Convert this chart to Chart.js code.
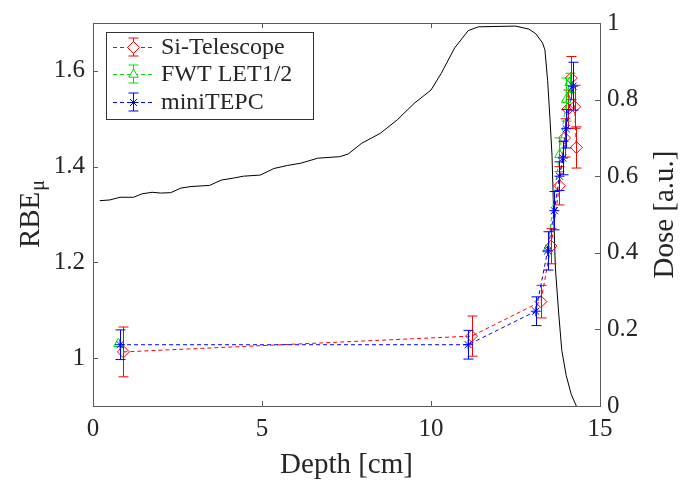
<!DOCTYPE html>
<html>
<head>
<meta charset="utf-8">
<title>RBE vs depth</title>
<script src="https://cdn.jsdelivr.net/npm/chart.js@4.4.1/dist/chart.umd.min.js"></script>
<style>
  html, body { margin: 0; padding: 0; background: #fff; }
</style>
</head>
<body>
<canvas id="rbeChart" width="688" height="482"></canvas>
<script>
// Si-Telescope (red diamonds)
const siDepth = [0.9, 11.2, 13.25, 13.55, 13.8, 13.95, 14.05, 14.15, 14.25, 14.3];
const siRbe   = [1.013, 1.046, 1.118, 1.234, 1.36, 1.46, 1.52, 1.585, 1.525, 1.44];
const siErr   = [0.052, 0.042, 0.034, 0.037, 0.04, 0.04, 0.04, 0.045, 0.045, 0.043];

// FWT LET1/2 (green triangles)
const fwtDepth = [0.75, 13.45, 13.8, 14.0, 14.1];
const fwtRbe   = [1.03, 1.228, 1.425, 1.54, 1.575];
const fwtErr   = [0, 0, 0.035, 0.045, 0.02];

// miniTEPC (blue stars)
const tepcDepth = [0.8, 11.1, 13.1, 13.45, 13.65, 13.8, 13.9, 14.0, 14.2];
const tepcRbe   = [1.028, 1.028, 1.098, 1.224, 1.308, 1.38, 1.418, 1.479, 1.568];
const tepcErr   = [0.031, 0.03, 0.03, 0.04, 0.04, 0.03, 0.035, 0.04, 0.05];

// depth dose curve (right axis)
const doseDepth = [0.2, 0.5, 0.8, 1.2, 1.45, 1.75, 2.0, 2.3, 2.6, 2.9, 3.45, 3.8, 4.15, 4.45, 4.95,
  5.35, 5.75, 6.15, 6.65, 7.3, 7.55, 7.95, 8.5, 9.0, 9.5, 10.0, 10.3, 10.7, 11.1, 11.4, 12.5, 12.9,
  13.1, 13.3, 13.37, 13.45, 13.52, 13.58, 13.63, 13.68, 13.78, 13.87, 14.0, 14.15, 14.3];
const doseVal = [0.536, 0.538, 0.545, 0.545, 0.554, 0.558, 0.556, 0.557, 0.569, 0.573, 0.576, 0.59, 0.595, 0.6, 0.603,
  0.62, 0.628, 0.634, 0.647, 0.651, 0.658, 0.686, 0.712, 0.747, 0.79, 0.825, 0.868, 0.935, 0.98, 0.99, 0.992, 0.984,
  0.972, 0.948, 0.93, 0.85, 0.75, 0.655, 0.5, 0.36, 0.24, 0.145, 0.08, 0.03, 0.0];

const depthTicks = [0, 5, 10, 15];
const rbeTicks = [1, 1.2, 1.4, 1.6];
const doseTicks = [0, 0.2, 0.4, 0.6, 0.8, 1];

const serif = '"Times New Roman", Times, "Liberation Serif", "DejaVu Serif", "Noto Serif", serif';
const textColor = '#262626';
const frameColor = '#5a5a5a';

function pts(xs, ys) {
    return xs.map((x, i) => ({ x: x, y: ys[i] }));
}

function fmt(v) {
    return (v === 0 || v === 1) ? String(v) : v.toFixed(1);
}

// error bars, drawn just before each dataset's markers
const errorBars = {
    id: 'errorBars',
    beforeDatasetDraw(chart, args) {
        const ds = chart.data.datasets[args.index];
        if (!ds.errors) return;
        const ctx = chart.ctx;
        const xs = chart.scales.x;
        const ys = chart.scales.y;
        ctx.save();
        ctx.strokeStyle = ds.borderColor;
        ctx.lineWidth = 1;
        ds.data.forEach((p, i) => {
            const e = ds.errors[i];
            if (!e) return;
            const px = Math.round(xs.getPixelForValue(p.x)) + 0.5;
            const top = ys.getPixelForValue(p.y + e);
            const bot = ys.getPixelForValue(p.y - e);
            ctx.beginPath();
            ctx.moveTo(px, top); ctx.lineTo(px, bot);
            ctx.moveTo(px - 5, top); ctx.lineTo(px + 5, top);
            ctx.moveTo(px - 5, bot); ctx.lineTo(px + 5, bot);
            ctx.stroke();
        });
        ctx.restore();
    }
};

// box, inward ticks, axis titles and legend
const decorations = {
    id: 'decorations',
    afterDraw(chart) {
        const ctx = chart.ctx;
        const a = chart.chartArea;
        const xs = chart.scales.x, yl = chart.scales.y, yr = chart.scales.yDose;
        ctx.save();
        ctx.strokeStyle = frameColor;
        ctx.lineWidth = 1;
        ctx.strokeRect(Math.round(a.left) + 0.5, Math.round(a.top) + 0.5,
            Math.round(a.right - a.left), Math.round(a.bottom - a.top));
        ctx.beginPath();
        depthTicks.forEach(v => {
            const px = Math.round(xs.getPixelForValue(v)) + 0.5;
            ctx.moveTo(px, a.bottom); ctx.lineTo(px, a.bottom - 5);
            ctx.moveTo(px, a.top); ctx.lineTo(px, a.top + 5);
        });
        rbeTicks.forEach(v => {
            const py = Math.round(yl.getPixelForValue(v)) + 0.5;
            ctx.moveTo(a.left, py); ctx.lineTo(a.left + 5, py);
        });
        doseTicks.forEach(v => {
            const py = Math.round(yr.getPixelForValue(v)) + 0.5;
            ctx.moveTo(a.right, py); ctx.lineTo(a.right - 5, py);
        });
        ctx.stroke();

        // titles
        ctx.fillStyle = textColor;
        ctx.font = '29px ' + serif;
        ctx.textAlign = 'center';
        ctx.textBaseline = 'alphabetic';
        ctx.fillText('Depth [cm]', (a.left + a.right) / 2, 473);

        const cy = (a.top + a.bottom) / 2;
        ctx.save();
        ctx.translate(39, cy);
        ctx.rotate(-Math.PI / 2);
        ctx.font = '29px ' + serif;
        const w1 = ctx.measureText('RBE').width;
        ctx.font = '20px ' + serif;
        const w2 = ctx.measureText('\u03bc').width;
        ctx.textAlign = 'left';
        ctx.font = '29px ' + serif;
        ctx.fillText('RBE', -(w1 + w2) / 2, 0);
        ctx.font = '20px ' + serif;
        ctx.fillText('\u03bc', -(w1 + w2) / 2 + w1 + 1, 5);
        ctx.restore();

        ctx.save();
        ctx.translate(673, cy);
        ctx.rotate(-Math.PI / 2);
        ctx.font = '29px ' + serif;
        ctx.textAlign = 'center';
        ctx.fillText('Dose [a.u.]', 0, 0);
        ctx.restore();

        // legend
        const lx = 106, ly = 32, lw = 207, lh = 87;
        ctx.fillStyle = '#fff';
        ctx.fillRect(lx, ly, lw, lh);
        ctx.strokeStyle = '#333';
        ctx.strokeRect(lx + 0.5, ly + 0.5, lw, lh);
        const rows = [47, 74, 102];
        chart.data.datasets.filter(d => d.errors).forEach((ds, i) => {
            const y = rows[i];
            ctx.strokeStyle = ds.borderColor;
            ctx.lineWidth = 1;
            ctx.setLineDash(ds.borderDash);
            ctx.beginPath();
            ctx.moveTo(113, y + 0.5); ctx.lineTo(154, y + 0.5);
            ctx.stroke();
            ctx.setLineDash([]);
            ctx.beginPath();
            ctx.moveTo(133.5, y - 9); ctx.lineTo(133.5, y + 9);
            ctx.moveTo(128.5, y - 9); ctx.lineTo(138.5, y - 9);
            ctx.moveTo(128.5, y + 9); ctx.lineTo(138.5, y + 9);
            ctx.stroke();
            ctx.fillStyle = '#fff';
            Chart.helpers.drawPoint(ctx, {
                pointStyle: ds.pointStyle, radius: ds.pointRadius, rotation: 0, borderWidth: 1
            }, 133.5, y + 0.5);
            ctx.fillStyle = textColor;
            ctx.font = '24px ' + serif;
            ctx.textAlign = 'left';
            ctx.textBaseline = 'middle';
            ctx.fillText(ds.label, 161, y + 1);
        });
        ctx.restore();
    }
};

new Chart(document.getElementById('rbeChart'), {
    type: 'scatter',
    data: {
        datasets: [
            {
                label: 'Dose',
                data: pts(doseDepth, doseVal),
                borderColor: '#000',
                showLine: true, borderWidth: 1, pointRadius: 0,
                yAxisID: 'yDose', order: 3
            },
            {
                label: 'Si-Telescope',
                data: pts(siDepth, siRbe),
                errors: siErr,
                borderColor: '#ff0000',
                backgroundColor: 'rgba(0,0,0,0)',
                showLine: true, borderWidth: 1, borderDash: [4, 3],
                pointStyle: 'rectRot', pointRadius: 6, pointBorderWidth: 1,
                yAxisID: 'y', order: 2
            },
            {
                label: 'FWT LET1/2',
                data: pts(fwtDepth, fwtRbe),
                errors: fwtErr,
                borderColor: '#00dd00',
                backgroundColor: 'rgba(0,0,0,0)',
                showLine: true, borderWidth: 1, borderDash: [4, 3],
                segment: { borderColor: c => c.p0DataIndex === 0 ? 'rgba(0,0,0,0)' : undefined },
                pointStyle: 'triangle', pointRadius: 5.5, pointBorderWidth: 1,
                yAxisID: 'y', order: 1
            },
            {
                label: 'miniTEPC',
                data: pts(tepcDepth, tepcRbe),
                errors: tepcErr,
                borderColor: '#0000ff',
                backgroundColor: 'rgba(0,0,0,0)',
                showLine: true, borderWidth: 1, borderDash: [4, 3],
                pointStyle: 'star', pointRadius: 5, pointBorderWidth: 1,
                yAxisID: 'y', order: 0
            }
        ]
    },
    options: {
        responsive: false,
        animation: false,
        events: [],
        layout: { padding: { top: 19, left: 0, right: 0, bottom: 0 } },
        plugins: { legend: { display: false }, tooltip: { enabled: false } },
        scales: {
            x: {
                type: 'linear', min: 0, max: 15,
                afterBuildTicks: s => { s.ticks = depthTicks.map(v => ({ value: v })); },
                afterFit: s => { s.height = 76; },
                grid: { display: false, drawTicks: false },
                border: { display: false },
                ticks: { color: textColor, padding: 8, maxRotation: 0,
                    font: { family: serif, size: 25 }, callback: v => String(v) }
            },
            y: {
                position: 'left', min: 0.9, max: 1.7,
                afterBuildTicks: s => { s.ticks = rbeTicks.map(v => ({ value: v })); },
                afterFit: s => { s.width = 93; },
                grid: { display: false, drawTicks: false },
                border: { display: false },
                ticks: { color: textColor, padding: 8,
                    font: { family: serif, size: 25 }, callback: v => fmt(v) }
            },
            yDose: {
                position: 'right', min: 0, max: 1,
                afterBuildTicks: s => { s.ticks = doseTicks.map(v => ({ value: v })); },
                afterFit: s => { s.width = 88; },
                grid: { display: false, drawTicks: false },
                border: { display: false },
                ticks: { color: textColor, padding: 7,
                    font: { family: serif, size: 25 }, callback: v => fmt(v) }
            }
        }
    },
    plugins: [errorBars, decorations]
});
</script>
</body>
</html>
